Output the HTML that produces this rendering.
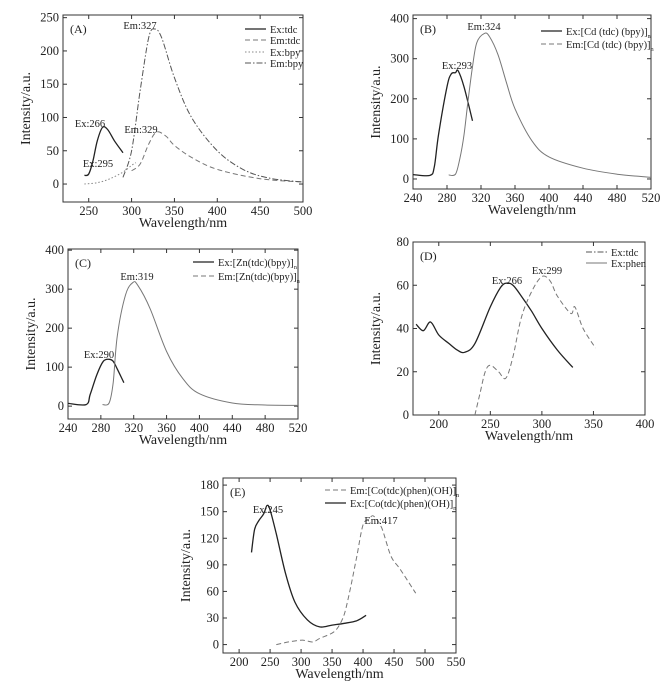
<!DOCTYPE html>
<html><head><meta charset="utf-8"><style>
body{margin:0;background:#fff}
svg{display:block;font-family:"Liberation Serif",serif}
</style></head><body>
<svg id="fig" width="668" height="686" viewBox="0 0 668 686"></svg>
<script>
// ---- data arrays (wavelength nm, intensity a.u.) ----
const aExTdcX=[245,250,255,260,266,272,280,290];
const aExTdcY=[13,15,35,65,85,82,65,47];
const aEmTdcX=[300,310,320,329,340,350,370,400,450,500];
const aEmTdcY=[20,30,60,78,72,58,40,22,8,3];
const aExBpyX=[245,260,275,290,300,305];
const aExBpyY=[0,2,8,18,28,32];
const aEmBpyX=[290,300,310,320,327,335,350,370,400,430,460,500];
const aEmBpyY=[10,50,140,220,233,220,160,100,50,22,9,3];
const bExX=[240,260,265,270,280,285,290,293,300,310];
const bExY=[11,9,30,110,230,262,265,270,230,145];
const bEmX=[282,290,295,300,305,310,315,324,330,340,350,360,380,400,440,480,520];
const bEmY=[10,12,50,110,200,280,340,363,355,310,240,175,95,55,27,12,4];
const cExX=[240,262,267,275,283,290,295,300,308];
const cExY=[7,4,30,80,115,120,115,95,60];
const cEmX=[282,290,295,300,310,319,325,340,360,380,400,440,480,520];
const cEmY=[4,8,60,180,285,317,310,250,140,70,32,8,3,2];
const dPhenX=[178,185,192,200,210,218,225,235,250,260,266,272,280,290,300,315,330];
const dPhenY=[42,39,43,37,33,30,29,33,50,59,61,60,55,48,40,30,22];
const dTdcX=[235,240,245,250,258,265,272,280,290,300,308,315,328,332,340,352];
const dTdcY=[0,10,20,23,20,17,27,45,57,64,62,55,47,50,40,31];
const eEmX=[260,280,300,310,320,330,350,360,370,380,390,400,410,417,430,445,460,485];
const eEmY=[0,3,5,4,3,7,13,20,35,65,100,135,142,145,132,100,85,58];
const eExX=[220,225,232,240,245,250,260,275,290,310,330,350,370,390,405];
const eExY=[104,130,140,148,157,152,125,80,48,28,20,22,24,27,33];
const aXTicks=[250,300,350,400,450,500], aYTicks=[0,50,100,150,200,250];
const bXTicks=[240,280,320,360,400,440,480,520], bYTicks=[0,100,200,300,400];
const dXTicks=[200,250,300,350,400], dYTicks=[0,20,40,60,80];
const eXTicks=[200,250,300,350,400,450,500,550], eYTicks=[0,30,60,90,120,150,180];

const NS="http://www.w3.org/2000/svg";
const svg=document.getElementById('fig');
function mk(tag,attrs,parent,text){const e=document.createElementNS(NS,tag);for(const k in attrs)e.setAttribute(k,attrs[k]);if(text!==undefined)e.textContent=text;(parent||svg).appendChild(e);return e;}

function panel(id,f,xd,yd,xt,yt,label){
  const g=mk('g',{});
  
  
  const sx=v=>f.l+(v-xd[0])/(xd[1]-xd[0])*(f.r-f.l);
  const sy=v=>f.b-(v-yd[0])/(yd[1]-yd[0])*(f.b-f.t);
  const fr=mk('rect',{x:f.l,y:f.t,width:f.r-f.l,height:f.b-f.t,fill:'none',stroke:'#333','stroke-width':1},g);
  
  
  xt.forEach(v=>{const x=sx(v);
    mk('line',{x1:x,x2:x,y1:f.b,y2:f.b-4,stroke:'#333'},g);
    mk('line',{x1:x,x2:x,y1:f.t,y2:f.t+4,stroke:'#333'},g);
    const t=mk('text',{x:x,y:f.b+13,'text-anchor':'middle','font-size':12.5,fill:'#222'},g,v);
    
    });
  yt.forEach(v=>{const y=sy(v);
    mk('line',{x1:f.l,x2:f.l+4,y1:y,y2:y,stroke:'#333'},g);
    mk('line',{x1:f.r,x2:f.r-4,y1:y,y2:y,stroke:'#333'},g);
    const t=mk('text',{x:f.l-4,y:y+4,'text-anchor':'end','font-size':12.5,fill:'#222'},g,v);
    
    });
  const xtl=mk('text',{x:(f.l+f.r)/2,y:f.b+25,'text-anchor':'middle','font-size':14,fill:'#222'},g,'Wavelength/nm');
  
  
  const cy=(f.t+f.b)/2, cx=f.l-33;
  const ytl=mk('text',{x:cx,y:cy,'text-anchor':'middle','font-size':14,fill:'#222',transform:`rotate(-90 ${cx} ${cy})`},g,'Intensity/a.u.');
  
  
  const pl=mk('text',{x:f.l+7,y:f.t+18,'font-size':12,fill:'#222'},g,'('+label+')');
  
  
  return {g,sx,sy};
}
function series(p,xs,ys,style,name){
  const P=xs.map((x,i)=>[p.sx(x),p.sy(ys[i])]);
  let d='M'+P[0][0].toFixed(1)+','+P[0][1].toFixed(1);
  for(let i=0;i<P.length-1;i++){
    const p0=P[Math.max(0,i-1)],p1=P[i],p2=P[i+1],p3=P[Math.min(P.length-1,i+2)];
    const c1=[p1[0]+(p2[0]-p0[0])/6,p1[1]+(p2[1]-p0[1])/6];
    const c2=[p2[0]-(p3[0]-p1[0])/6,p2[1]-(p3[1]-p1[1])/6];
    d+=` C${c1[0].toFixed(1)},${c1[1].toFixed(1)} ${c2[0].toFixed(1)},${c2[1].toFixed(1)} ${p2[0].toFixed(1)},${p2[1].toFixed(1)}`;
  }
  const e=mk('path',Object.assign({d:d,fill:'none','stroke-linejoin':'round'},style),p.g);
  
  
}
function legend(g,x,y,style,label,sub,name){
  const l=mk('line',Object.assign({x1:x,x2:x+21,y1:y,y2:y},style),g);
  
  
  const t=mk('text',{x:x+25,y:y+4,'font-size':10.5,fill:'#222'},g,label);
  
  
  if(sub){mk('tspan',{'font-size':6,dy:3},t,sub);}
}
function note(g,x,y,s){const t=mk('text',{x:x,y:y,'text-anchor':'middle','font-size':10.5,fill:'#222'},g,s);
  
  }

const SOLID={stroke:'#222','stroke-width':1.3};
const DASH={stroke:'#777','stroke-width':1,'stroke-dasharray':'5,3'};
const DOT={stroke:'#888','stroke-width':1,'stroke-dasharray':'1.5,2'};
const DASHDOT={stroke:'#555','stroke-width':1,'stroke-dasharray':'6,2,1.5,2'};
const GRAY={stroke:'#777','stroke-width':1};

// A
let p=panel('a',{l:63,r:303,t:15,b:202},[220,500],[-27,254],aXTicks,aYTicks,'A');
series(p,aExTdcX,aExTdcY,SOLID,'series-ex-tdc');
series(p,aEmTdcX,aEmTdcY,DASH,'series-em-tdc');
series(p,aExBpyX,aExBpyY,DOT,'series-ex-bpy');
series(p,aEmBpyX,aEmBpyY,DASHDOT,'series-em-bpy');
legend(p.g,245,29,SOLID,'Ex:tdc','','legend-ex-tdc');
legend(p.g,245,40,DASH,'Em:tdc','','legend-em-tdc');
legend(p.g,245,52,DOT,'Ex:bpy','','legend-ex-bpy');
legend(p.g,245,63,DASHDOT,'Em:bpy','','legend-em-bpy');
note(p.g,90,127,'Ex:266');note(p.g,98,167,'Ex:295');note(p.g,140,29,'Em:327');note(p.g,141,133,'Em:329');

// B
p=panel('b',{l:413,r:651,t:15,b:189},[240,520],[-25,409],bXTicks,bYTicks,'B');
series(p,bExX,bExY,SOLID,'series-ex-cd');
series(p,bEmX,bEmY,GRAY,'series-em-cd');
legend(p.g,541,31,SOLID,'Ex:[Cd (tdc) (bpy)]','n','legend-ex-cd');
legend(p.g,541,44,DASH,'Em:[Cd (tdc) (bpy)]','n','legend-em-cd');
note(p.g,484,30,'Em:324');note(p.g,457,69,'Ex:293');

// C
p=panel('c',{l:68,r:298,t:249,b:419},[240,520],[-33,403],bXTicks,bYTicks,'C');
series(p,cExX,cExY,SOLID,'series-ex-zn');
series(p,cEmX,cEmY,GRAY,'series-em-zn');
legend(p.g,193,262,SOLID,'Ex:[Zn(tdc)(bpy)]','n','legend-ex-zn');
legend(p.g,193,276,DASH,'Em:[Zn(tdc)(bpy)]','n','legend-em-zn');
note(p.g,137,280,'Em:319');note(p.g,99,358,'Ex:290');

// D
p=panel('d',{l:413,r:645,t:242,b:415},[175,400],[0,80],dXTicks,dYTicks,'D');
series(p,dPhenX,dPhenY,SOLID,'series-ex-phen');
series(p,dTdcX,dTdcY,DASH,'series-ex-tdc-d');
legend(p.g,586,252,DASHDOT,'Ex:tdc','','legend-ex-tdc-d');
legend(p.g,586,263,GRAY,'Ex:phen','','legend-ex-phen');
note(p.g,507,284,'Ex:266');note(p.g,547,274,'Ex:299');

// E
p=panel('e',{l:223,r:456,t:478,b:653},[174,550],[-9.5,188],eXTicks,eYTicks,'E');
series(p,eEmX,eEmY,DASH,'series-em-co');
series(p,eExX,eExY,SOLID,'series-ex-co');
legend(p.g,325,490,DASH,'Em:[Co(tdc)(phen)(OH)]','n','legend-em-co');
legend(p.g,325,503,SOLID,'Ex:[Co(tdc)(phen)(OH)]','n','legend-ex-co');
note(p.g,268,513,'Ex:245');note(p.g,381,524,'Em:417');
</script>
</body></html>
